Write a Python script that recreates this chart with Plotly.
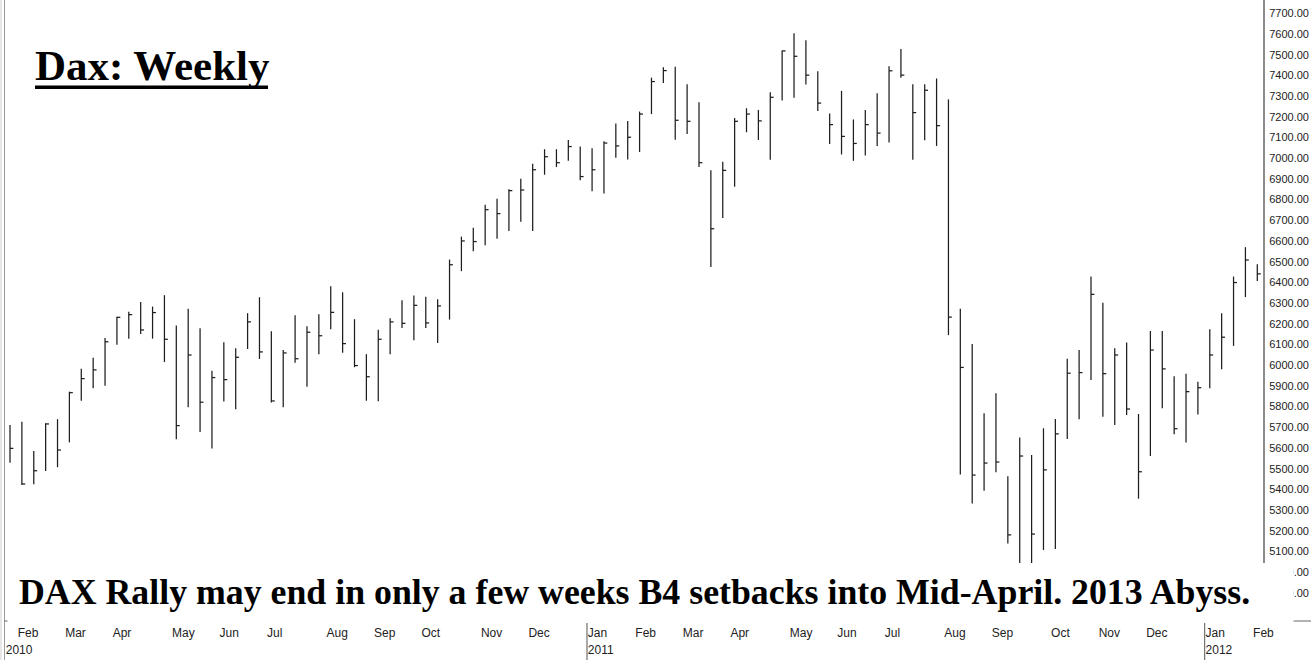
import pandas as pd
import plotly.graph_objects as go

# ---------------- data (weekly DAX bars, week starting Monday) ----------------
first_week = "2010-01-25"
n_weeks = 106

high = [5711, 5727, 5585, 5719, 5739, 5872, 5983, 6036, 6131, 6234,
        6258, 6305, 6283, 6338, 6191, 6273, 6178, 5973, 6111, 6082,
        6251, 6328, 6164, 6073, 6241, 6188, 6246, 6381, 6352, 6222,
        6053, 6171, 6227, 6313, 6336, 6331, 6318, 6510, 6621, 6664,
        6775, 6804, 6850, 6901, 6973, 7043, 7043, 7088, 7056, 7048,
        7082, 7167, 7180, 7225, 7389, 7439, 7442, 7357, 7270, 6941,
        6983, 7194, 7241, 7233, 7318, 7520, 7603, 7570, 7420, 7216,
        7325, 7187, 7232, 7313, 7444, 7527, 7357, 7357, 7385, 7284,
        6272, 6102, 5768, 5864, 5463, 5650, 5566, 5695, 5740, 6031,
        6073, 6428, 6302, 6082, 6109, 5764, 6165, 6165, 5946, 5959,
        5920, 6173, 6251, 6428, 6570, 6487]

low = [5529, 5421, 5425, 5489, 5507, 5627, 5828, 5888, 5900, 6098,
       6128, 6151, 6128, 6015, 5642, 5797, 5677, 5597, 5824, 5787,
       6078, 6030, 5819, 5797, 6012, 5896, 6053, 6173, 6060, 5990,
       5828, 5826, 6053, 6180, 6120, 6180, 6107, 6220, 6454, 6550,
       6579, 6611, 6648, 6693, 6648, 6920, 6957, 6988, 6893, 6840,
       6829, 7002, 6993, 7030, 7213, 7363, 7089, 7117, 6957, 6474,
       6711, 6862, 7125, 7088, 6992, 7278, 7292, 7356, 7228, 7068,
       7018, 6987, 7013, 7059, 7076, 7389, 6992, 7086, 7059, 6145,
       5472, 5332, 5393, 5482, 5138, 4970, 4980, 5107, 5112, 5643,
       5739, 5928, 5751, 5711, 5759, 5355, 5561, 5792, 5666, 5626,
       5761, 5888, 5980, 6093, 6329, 6407]

close = [5598, 5426, 5490, 5716, 5590, 5867, 5935, 5977, 6113, 6231,
         6244, 6170, 6254, 6125, 5708, 6049, 5821, 5940, 5930, 6038,
         6209, 6064, 5827, 6059, 6031, 6159, 6142, 6255, 6104, 5998,
         5944, 6125, 6209, 6202, 6289, 6204, 6286, 6485, 6600, 6597,
         6751, 6732, 6843, 6846, 6944, 7007, 6978, 7056, 6911, 6944,
         7073, 7059, 7101, 7213, 7370, 7423, 7183, 7178, 6978, 6659,
         6941, 7178, 7213, 7180, 7294, 7518, 7492, 7401, 7266, 7162,
         7105, 7071, 7162, 7121, 7422, 7401, 7220, 7328, 7157, 6232,
         5989, 5469, 5527, 5532, 5180, 5561, 5184, 5494, 5668, 5961,
         5964, 6342, 5959, 6049, 5788, 5485, 6073, 5982, 5693, 5872,
         5891, 6049, 6135, 6399, 6508, 6441]

month_tick_dates = ["2010-02-01", "2010-03-01", "2010-03-29", "2010-05-03", "2010-05-31",
                    "2010-06-28", "2010-08-02", "2010-08-30", "2010-09-27", "2010-11-01",
                    "2010-11-29", "2011-01-03", "2011-01-31", "2011-02-28", "2011-03-28",
                    "2011-05-02", "2011-05-30", "2011-06-27", "2011-08-01", "2011-08-29",
                    "2011-10-03", "2011-10-31", "2011-11-28", "2012-01-02", "2012-01-30"]
month_tick_labels = ["Feb", "Mar", "Apr", "May", "Jun", "Jul", "Aug", "Sep", "Oct", "Nov",
                     "Dec", "Jan", "Feb", "Mar", "Apr", "May", "Jun", "Jul", "Aug", "Sep",
                     "Oct", "Nov", "Dec", "Jan", "Feb"]
year_tick_dates = ["2010-01-25", "2011-01-03", "2012-01-02"]
year_tick_labels = ["2010", "2011", "2012"]
year_separators = ["2011-01-02 12:00", "2012-01-01 12:00"]

price_ticks = list(range(4900, 7701, 100))
price_tick_labels = [f"{v}.00" for v in price_ticks]

title_text = "Dax: Weekly"
note_text = "DAX Rally may end in only a few weeks B4 setbacks into Mid-April. 2013 Abyss."

# ---------------- build bars ----------------
weeks = pd.date_range(first_week, periods=n_weeks, freq="7D")
bar_x = weeks + pd.Timedelta(hours=60)          # mid-week position
tick_end = bar_x + pd.Timedelta(days=2)         # right-hand close tick

fmt = "%Y-%m-%d %H:%M"
xs, ys = [], []
for i in range(n_weeks):
    xb = bar_x[i].strftime(fmt)
    xt = tick_end[i].strftime(fmt)
    xs += [xb, xb, None, xb, xt, None]
    ys += [low[i], high[i], None, close[i], close[i], None]

# ---------------- geometry ----------------
W, H = 1311, 660
ML, MR, MT, MB = 4, 48, 0, 39
PW, PH = W - ML - MR, H - MT - MB

x_range = [(bar_x[0] - pd.Timedelta(days=3.54)).strftime(fmt),
           (bar_x[-1] + pd.Timedelta(days=3.36)).strftime(fmt)]
y_range = [4764, 7764]


def px_x(p):
    return (p - ML) / PW


def px_y(p):
    return (H - MB - p) / PH


fig = go.Figure()
fig.add_trace(go.Scatter(x=xs, y=ys, mode="lines",
                         line=dict(color="#1e1e1e", width=1.25),
                         hoverinfo="skip", showlegend=False))
fig.add_trace(go.Scatter(x=year_tick_dates, y=[None] * len(year_tick_dates),
                         xaxis="x2", mode="markers", showlegend=False,
                         hoverinfo="skip"))

axis_font = dict(family="Arial, Liberation Sans, sans-serif", size=12, color="#222222")

fig.update_layout(
    width=W, height=H,
    margin=dict(l=ML, r=MR, t=MT, b=MB, pad=0),
    paper_bgcolor="white", plot_bgcolor="white",
    showlegend=False,
    xaxis=dict(type="date", range=x_range, showgrid=False, zeroline=False,
               showline=False, ticks="", tickmode="array",
               tickvals=month_tick_dates, ticktext=month_tick_labels,
               ticklabelposition="outside right", ticklabelstandoff=3,
               tickfont=axis_font),
    xaxis2=dict(type="date", range=x_range, overlaying="x", side="bottom",
                anchor="y", showgrid=False, zeroline=False, showline=False,
                ticks="", tickmode="array",
                tickvals=year_tick_dates, ticktext=year_tick_labels,
                ticklabelposition="outside right", ticklabelstandoff=20,
                tickfont=axis_font),
    yaxis=dict(side="right", range=y_range, showgrid=False, zeroline=False,
               showline=True, linecolor="#8c8c8c", linewidth=2,
               ticks="", tickmode="array", tickvals=price_ticks,
               ticktext=price_tick_labels, ticklabelstandoff=2,
               tickfont=dict(family="Arial, Liberation Sans, sans-serif",
                             size=11, color="#222222")),
)

shapes = []
# left frame lines
shapes.append(dict(type="line", xref="paper", yref="paper",
                   x0=px_x(1), x1=px_x(1), y0=px_y(H), y1=1,
                   line=dict(color="#cfcfcf", width=1), layer="above"))
shapes.append(dict(type="line", xref="paper", yref="paper",
                   x0=px_x(4.5), x1=px_x(4.5), y0=px_y(H), y1=1,
                   line=dict(color="#9a9a9a", width=1), layer="above"))
# bottom axis line (extends under the price labels)
shapes.append(dict(type="line", xref="paper", yref="paper",
                   x0=px_x(4.5), x1=px_x(W), y0=0, y1=0,
                   line=dict(color="#666666", width=1), layer="above"))
# Jan separators in the date scale
for d in year_separators:
    shapes.append(dict(type="line", xref="x", yref="paper",
                       x0=d, x1=d, y0=px_y(H), y1=px_y(H - MB + 2),
                       line=dict(color="#555555", width=1), layer="above"))
# white box behind the note text
shapes.append(dict(type="rect", xref="paper", yref="paper",
                   x0=px_x(7.5), x1=px_x(1293.5), y0=px_y(623), y1=px_y(563),
                   fillcolor="white", line=dict(width=0), layer="above"))
# thick underline of the title
shapes.append(dict(type="rect", xref="paper", yref="paper",
                   x0=px_x(35), x1=px_x(268), y0=px_y(89), y1=px_y(85.5),
                   fillcolor="black", line=dict(width=0), layer="above"))
fig.update_layout(shapes=shapes)

fig.add_annotation(xref="paper", yref="paper", x=px_x(34), y=px_y(65.5),
                   xanchor="left", yanchor="middle", showarrow=False, borderpad=0,
                   text=f"<b>{title_text}</b>",
                   font=dict(family="Liberation Serif, Times New Roman, serif",
                             size=43, color="black"))
fig.add_annotation(xref="paper", yref="paper", x=px_x(17.5), y=px_y(592),
                   xanchor="left", yanchor="middle", showarrow=False, borderpad=0,
                   text=f"<b>{note_text}</b>",
                   font=dict(family="Liberation Serif, Times New Roman, serif",
                             size=35.8, color="black"))

fig.write_html("out.html",
               config={"displayModeBar": False},
               post_script="document.body.style.margin='0';document.body.style.padding='0';")
